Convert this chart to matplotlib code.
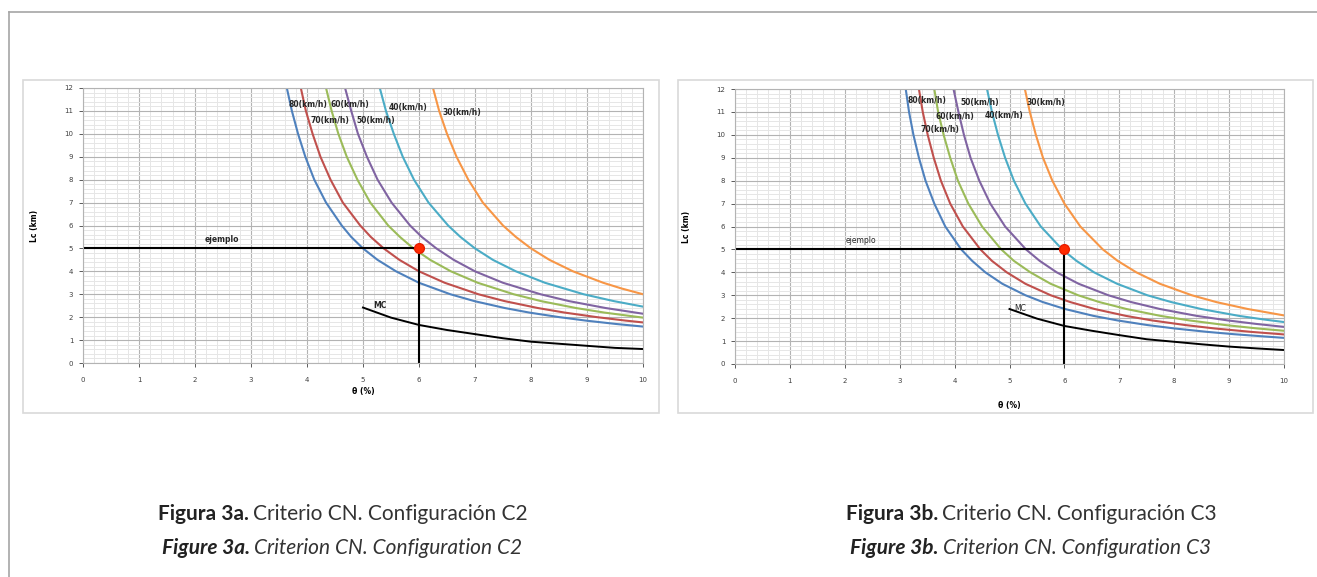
import matplotlib.pyplot as plt
from matplotlib.patches import Rectangle
from matplotlib.lines import Line2D
from matplotlib.ticker import MultipleLocator

# ---- Configuración C2 (figura 3a) ---- theta (%) / Lc (km)
c2_x80 = [3.64, 3.73, 3.84, 3.97, 4.13, 4.34, 4.62, 4.79, 5.00, 5.26, 5.59, 6.00, 6.56, 6.99, 7.53, 7.97, 8.51, 8.98, 9.53, 10.0]
c2_y80 = [12, 11, 10, 9, 8, 7, 6, 5.5, 5, 4.5, 4, 3.5, 3, 2.7, 2.4, 2.2, 2.0, 1.85, 1.7, 1.59]
c2_x70 = [3.89, 3.98, 4.10, 4.24, 4.42, 4.64, 4.95, 5.14, 5.37, 5.65, 6.0, 6.46, 7.06, 7.53, 8.12, 8.60, 9.18, 9.69, 10.0]
c2_y70 = [12, 11, 10, 9, 8, 7, 6, 5.5, 5, 4.5, 4, 3.5, 3, 2.7, 2.4, 2.2, 2.0, 1.85, 1.77]
c2_x60 = [4.34, 4.44, 4.56, 4.71, 4.90, 5.13, 5.45, 5.66, 5.90, 6.20, 6.57, 7.05, 7.69, 8.18, 8.80, 9.31, 10.0]
c2_y60 = [12, 11, 10, 9, 8, 7, 6, 5.5, 5, 4.5, 4, 3.5, 3, 2.7, 2.4, 2.2, 1.98]
c2_x50 = [4.68, 4.79, 4.91, 5.07, 5.26, 5.51, 5.84, 6.05, 6.31, 6.62, 7.0, 7.50, 8.17, 8.68, 9.33, 10.0]
c2_y50 = [12, 11, 10, 9, 8, 7, 6, 5.5, 5, 4.5, 4, 3.5, 3, 2.7, 2.4, 2.15]
c2_x40 = [5.30, 5.41, 5.55, 5.71, 5.91, 6.17, 6.52, 6.74, 7.0, 7.32, 7.73, 8.25, 8.94, 9.48, 10.0]
c2_y40 = [12, 11, 10, 9, 8, 7, 6, 5.5, 5, 4.5, 4, 3.5, 3, 2.7, 2.46]
c2_x30 = [6.25, 6.36, 6.5, 6.67, 6.88, 7.14, 7.5, 7.73, 8.0, 8.33, 8.75, 9.29, 9.62, 10.0]
c2_y30 = [12, 11, 10, 9, 8, 7, 6, 5.5, 5, 4.5, 4, 3.5, 3.25, 3.0]
c2_xmc = [5.0, 5.5, 6.0, 6.5, 7.0, 7.5, 8.0, 8.5, 9.0, 9.5, 10.0]
c2_ymc = [2.42, 1.98, 1.66, 1.44, 1.26, 1.08, 0.93, 0.84, 0.75, 0.66, 0.61]

# ---- Configuración C3 (figura 3b) ----
c3_x80 = [3.11, 3.17, 3.25, 3.35, 3.47, 3.63, 3.83, 4.12, 4.32, 4.56, 4.87, 5.29, 5.61, 6.01, 6.53, 6.97, 7.51, 8.01, 8.61, 9.09, 9.65, 10.0]
c3_y80 = [12, 11, 10, 9, 8, 7, 6, 5, 4.5, 4, 3.5, 3, 2.7, 2.4, 2.1, 1.9, 1.7, 1.55, 1.4, 1.3, 1.2, 1.14]
c3_x70 = [3.35, 3.42, 3.51, 3.62, 3.75, 3.92, 4.15, 4.47, 4.68, 4.95, 5.29, 5.75, 6.11, 6.55, 7.12, 7.60, 8.20, 8.74, 9.41, 10.0]
c3_y70 = [12, 11, 10, 9, 8, 7, 6, 5, 4.5, 4, 3.5, 3, 2.7, 2.4, 2.1, 1.9, 1.7, 1.55, 1.4, 1.29]
c3_x60 = [3.63, 3.70, 3.80, 3.92, 4.06, 4.25, 4.50, 4.85, 5.08, 5.38, 5.75, 6.25, 6.64, 7.13, 7.75, 8.28, 8.93, 9.52, 10.0]
c3_y60 = [12, 11, 10, 9, 8, 7, 6, 5, 4.5, 4, 3.5, 3, 2.7, 2.4, 2.1, 1.9, 1.7, 1.55, 1.45]
c3_x50 = [3.98, 4.07, 4.17, 4.29, 4.45, 4.65, 4.92, 5.30, 5.55, 5.86, 6.26, 6.80, 7.22, 7.74, 8.41, 8.98, 9.49, 10.0]
c3_y50 = [12, 11, 10, 9, 8, 7, 6, 5, 4.5, 4, 3.5, 3, 2.7, 2.4, 2.1, 1.9, 1.75, 1.62]
c3_x40 = [4.59, 4.68, 4.79, 4.92, 5.08, 5.29, 5.57, 5.96, 6.22, 6.54, 6.96, 7.51, 7.95, 8.49, 9.18, 9.61, 10.0]
c3_y40 = [12, 11, 10, 9, 8, 7, 6, 5, 4.5, 4, 3.5, 3, 2.7, 2.4, 2.1, 1.95, 1.83]
c3_x30 = [5.28, 5.37, 5.48, 5.61, 5.78, 6.0, 6.29, 6.70, 6.97, 7.31, 7.74, 8.32, 8.77, 9.34, 10.0]
c3_y30 = [12, 11, 10, 9, 8, 7, 6, 5, 4.5, 4, 3.5, 3, 2.7, 2.4, 2.12]
c3_xmc = [5.0, 5.5, 6.0, 6.5, 7.0, 7.5, 8.0, 8.5, 9.0, 9.5, 10.0]
c3_ymc = [2.40, 1.98, 1.66, 1.45, 1.26, 1.08, 0.97, 0.86, 0.76, 0.68, 0.61]

# ejemplo: theta = 6 %, Lc = 5 km
ej_x = 6
ej_y = 5

speeds = ["80(km/h)", "70(km/h)", "60(km/h)", "50(km/h)", "40(km/h)", "30(km/h)"]
colors = ["#4F81BD", "#C0504D", "#9BBB59", "#8064A2", "#4BACC6", "#F79646"]

# label positions (data coords) for each speed
c2_lab = [(4.02, 11.26), (4.41, 10.56), (4.77, 11.26), (5.23, 10.56), (5.80, 11.17), (6.77, 10.95)]
c3_lab = [(3.50, 11.52), (3.73, 10.25), (4.00, 10.78), (4.46, 11.39), (4.90, 10.86), (5.66, 11.39)]

fig = plt.figure(figsize=(13.17, 5.77), dpi=100)

# outer page frame (left + top)
fig.add_artist(Line2D([9 / 1317, 9 / 1317], [0, 1 - 12 / 577], transform=fig.transFigure,
                      color="#a6a6a6", lw=1.2))
fig.add_artist(Line2D([9 / 1317, 1], [1 - 12 / 577, 1 - 12 / 577], transform=fig.transFigure,
                      color="#a6a6a6", lw=1.2))

# chart boxes
for x0, x1 in [(23, 659), (678, 1313)]:
    fig.add_artist(Rectangle((x0 / 1317, 1 - 413 / 577), (x1 - x0) / 1317, (413 - 80) / 577,
                             transform=fig.transFigure, fill=False, ec="#d9d9d9", lw=1.2))


def draw_chart(ax, xs, ys, xmc, ymc, labels, ylpad):
    ax.set_xlim(0, 10)
    ax.set_ylim(0, 12)
    ax.xaxis.set_major_locator(MultipleLocator(1))
    ax.yaxis.set_major_locator(MultipleLocator(1))
    ax.xaxis.set_minor_locator(MultipleLocator(0.2))
    ax.yaxis.set_minor_locator(MultipleLocator(0.2))
    ax.grid(which="minor", color="#e6e6e6", lw=0.7)
    ax.grid(which="major", color="#b3b3b3", lw=0.8)
    ax.set_axisbelow(True)
    for s in ax.spines.values():
        s.set_color("#b3b3b3")
        s.set_linewidth(0.8)
    ax.tick_params(which="major", labelsize=5, colors="#404040", length=3, width=0.6,
                   pad=7)
    ax.tick_params(which="minor", length=0)
    ax.tick_params(axis="y", pad=4)

    for x, y, c in zip(xs, ys, colors):
        ax.plot(x, y, color=c, lw=1.5, solid_joinstyle="round")
    ax.plot(xmc, ymc, color="black", lw=1.4)

    ax.plot([0, ej_x], [ej_y, ej_y], color="black", lw=1.5)
    ax.plot([ej_x, ej_x], [0, ej_y], color="black", lw=1.5)
    ax.plot(ej_x, ej_y, "o", color="#ff2a00", ms=7, mec="#e81e00", zorder=5)

    for t, (lx, ly) in zip(speeds, labels):
        ax.text(lx, ly, t, fontsize=5.5, fontweight="bold", color="#262626",
                ha="center", va="center")
    ax.set_ylabel("Lc (km)", fontsize=5.5, fontweight="bold", labelpad=ylpad)


ax1 = fig.add_axes([83 / 1317, 1 - 363 / 577, 560 / 1317, 275 / 577])
draw_chart(ax1, [c2_x80, c2_x70, c2_x60, c2_x50, c2_x40, c2_x30],
           [c2_y80, c2_y70, c2_y60, c2_y50, c2_y40, c2_y30], c2_xmc, c2_ymc, c2_lab, 18)
ax1.text(2.48, 5.37, "ejemplo", fontsize=5.5, fontweight="bold", color="#262626",
         ha="center", va="center")
ax1.text(5.3, 2.53, "MC", fontsize=5.5, fontweight="bold", color="#262626",
         ha="center", va="center")
ax1.set_xlabel("θ (%)", fontsize=5.5, fontweight="bold", labelpad=3)

ax2 = fig.add_axes([735 / 1317, 1 - 364 / 577, 549 / 1317, 275 / 577])
draw_chart(ax2, [c3_x80, c3_x70, c3_x60, c3_x50, c3_x40, c3_x30],
           [c3_y80, c3_y70, c3_y60, c3_y50, c3_y40, c3_y30], c3_xmc, c3_ymc, c3_lab, 18)
ax2.text(2.3, 5.37, "ejemplo", fontsize=5.5, color="#262626", ha="center", va="center")
ax2.text(5.2, 2.44, "MC", fontsize=5.5, color="#262626", ha="center", va="center")
ax2.set_xlabel("θ (%)", fontsize=5.5, fontweight="bold", labelpad=12)

# captions
cap_font = "Lato"
cap_size = 15
for xs, tag in [(249, "a"), (938, "b")]:
    cfg = "C2" if tag == "a" else "C3"
    fig.text(xs / 1317, 1 - 514 / 577, f"Figura 3{tag}.", fontsize=cap_size, fontweight="bold",
             family=cap_font, color="#222222", ha="right", va="center")
    fig.text((xs + 4) / 1317, 1 - 514 / 577, f"Criterio CN. Configuración {cfg}", fontsize=cap_size,
             family=cap_font, color="#333333", ha="left", va="center")
    fig.text((xs + 1) / 1317, 1 - 548 / 577, f"Figure 3{tag}.", fontsize=cap_size, fontweight="bold",
             style="italic", family=cap_font, color="#222222", ha="right", va="center")
    fig.text((xs + 5) / 1317, 1 - 548 / 577, f"Criterion CN. Configuration {cfg}", fontsize=cap_size,
             style="italic", family=cap_font, color="#333333", ha="left", va="center")

fig.savefig("out.png", dpi=100)
